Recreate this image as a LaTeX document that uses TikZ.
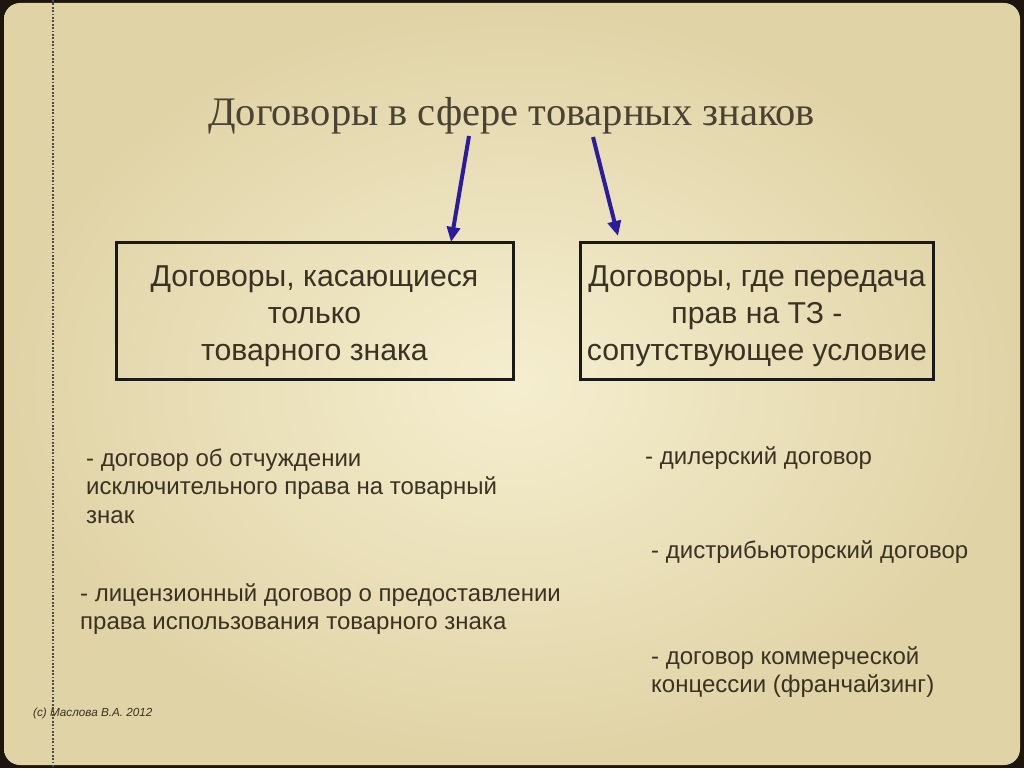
\documentclass[tikz,border=0pt]{standalone}
\usepackage{fontspec}
\setmainfont{Liberation Serif}
\setsansfont{Liberation Sans}
\usetikzlibrary{arrows.meta}
\definecolor{frame}{HTML}{1C160C}
\definecolor{bgin}{HTML}{F5EECF}
\definecolor{bgout}{HTML}{E0D3A6}
\definecolor{ink}{HTML}{3A3222}
\definecolor{titleink}{HTML}{4A4232}
\definecolor{arrowblue}{HTML}{2B1C9E}
\tikzset{
  boxframe/.style={draw=black!90, line width=3pt, inner sep=0pt},
  boxtext/.style={font=\sffamily\fontsize{30.2}{37}\selectfont, text=ink, align=center},
  itemtext/.style={font=\sffamily\fontsize{24}{28.5}\selectfont, text=ink, align=left, anchor=base west, inner sep=0pt},
  link/.style={draw=arrowblue, line width=4pt, -{Triangle[length=15pt,width=13pt]}},
}
\begin{document}
\begin{tikzpicture}[x=1pt,y=-1pt]
\useasboundingbox (0,0) rectangle (1024,768);
\fill[frame] (0,0) rectangle (1024,768);
\shade[inner color=bgin, outer color=bgout, rounded corners=16pt] (4,3) rectangle (1020,765);
\draw[black!70, line width=1.8pt, dash pattern=on 1.8pt off 1.6pt] (53,0) -- (53,768);
% title
\node[font=\rmfamily\fontsize{40.5}{44}\selectfont, text=titleink, anchor=base west, inner sep=0pt] (title) at (208,125) {Договоры в сфере товарных знаков};
\coordinate (t1) at (469,136);
\coordinate (t2) at (593,137);
% boxes
\draw[boxframe] (116,242) rectangle (513,379);
\node[boxtext] (left) at (314.5,316.5) {Договоры, касающиеся\\только\\товарного знака};
\draw[boxframe] (580,242) rectangle (933,379);
\node[boxtext] (right) at (757,316.5) {Договоры, где передача\\прав на ТЗ -\\сопутствующее условие};
\coordinate (l1) at (451,242);
\coordinate (r1) at (618,236);
\draw[link] (t1) -- (l1);
\draw[link] (t2) -- (r1);
% items (base anchor = baseline of the last line)
\node[itemtext] (a1) at (86,523) {- договор об отчуждении\\исключительного права на товарный\\знак};
\node[itemtext] (a2) at (80,629.5) {- лицензионный договор о предоставлении\\права использования товарного знака};
\node[itemtext] (b1) at (645,464) {- дилерский договор};
\node[itemtext] (b2) at (651,558) {- дистрибьюторский договор};
\node[itemtext] (b3) at (651,692.5) {- договор коммерческой\\концессии (франчайзинг)};
\node[font=\sffamily\itshape\fontsize{11.7}{14}\selectfont, text=ink, anchor=base west, inner sep=0pt] (foot) at (33,716) {(c) Маслова В.А. 2012};
\end{tikzpicture}
\end{document}
